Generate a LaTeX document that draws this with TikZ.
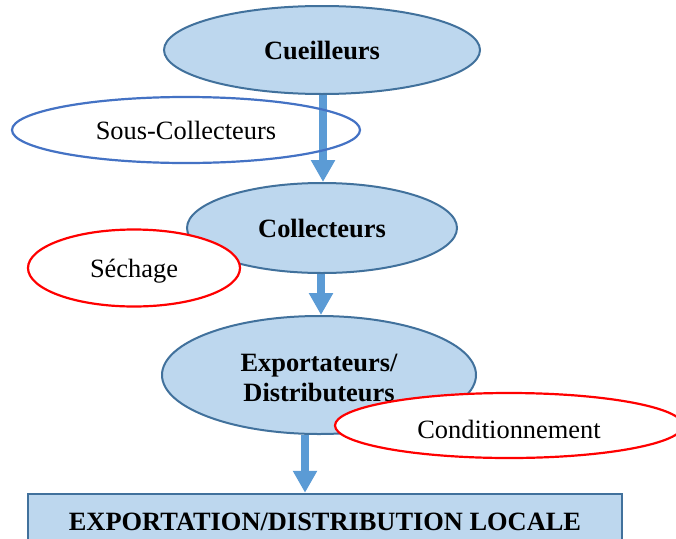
\documentclass[tikz,border=0pt]{standalone}
\usepackage{fontspec}
\setmainfont{Liberation Serif}
\usetikzlibrary{shapes.geometric,arrows.meta,backgrounds}
\definecolor{fillblue}{HTML}{BDD7EE}
\definecolor{edgeblue}{HTML}{41719C}
\definecolor{arrowblue}{HTML}{5B9BD5}
\definecolor{ringblue}{HTML}{4472C4}
\definecolor{ringred}{HTML}{FF0000}
\tikzset{
  actor/.style={ellipse, draw=edgeblue, fill=fillblue, line width=2pt, inner sep=0pt, text depth=0pt,
    font=\fontsize{26.4}{30}\selectfont\bfseries, align=center},
  stage/.style={ellipse, line width=2.2pt, inner sep=0pt, text depth=0pt,
    font=\fontsize{26.4}{30}\selectfont},
  flow/.style={draw=arrowblue, line width=8pt, -{Triangle[width=23pt,length=22pt]}},
  endbox/.style={rectangle, draw=edgeblue, fill=fillblue, line width=2.5pt, inner sep=0pt, text depth=0pt,
    font=\fontsize{26.4}{30}\selectfont\bfseries}
}
\begin{document}
\begin{tikzpicture}[x=1pt,y=-1pt]
\clip (0,0) rectangle (676,538);
\node[actor, minimum width=316pt, minimum height=88pt] (cu) at (322,50) {Cueilleurs};
\node[actor, minimum width=270pt, minimum height=90pt] (co) at (322,228) {Collecteurs};
\node[actor, minimum width=314pt, minimum height=118pt] (ex) at (319,375) {\raisebox{12pt}{\begin{tabular}{@{}c@{}}Exportateurs/\\Distributeurs\end{tabular}}};
\node[endbox, minimum width=594pt, minimum height=56pt] (box) at (325,522) {EXPORTATION/DISTRIBUTION LOCALE};
\node[stage, draw=ringblue, minimum width=348pt, minimum height=66pt] (sc) at (186,130) {Sous-Collecteurs};
\node[stage, draw=ringred, fill=white, minimum width=212pt, minimum height=77pt] (se) at (134,268) {Séchage};
\node[stage, draw=ringred, fill=white, minimum width=348pt, minimum height=65pt] (cd) at (509,425.5) {\raisebox{-7pt}{Conditionnement}};
\begin{scope}[on background layer]
\fill[white] (0,0) rectangle (676,538);
\draw[flow] ([xshift=1pt]cu.south) -- ([xshift=1pt]cu.south |- co.north);
\draw[flow] ([xshift=-1pt]co.south) -- ([xshift=-1pt]co.south |- ex.north);
\draw[flow] ([xshift=-14pt]ex.south) -- ([xshift=-14pt]ex.south |- box.north);
\end{scope}
\end{tikzpicture}
\end{document}
